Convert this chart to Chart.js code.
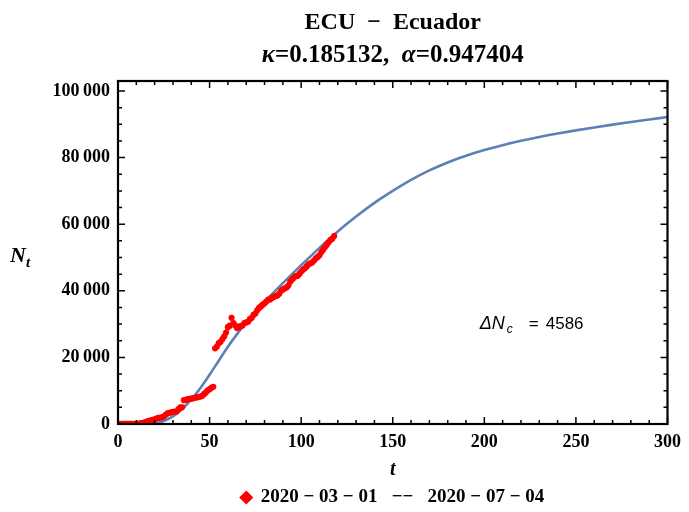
<!DOCTYPE html>
<html>
<head>
<meta charset="utf-8">
<script src="https://cdn.jsdelivr.net/npm/chart.js@4.4.1/dist/chart.umd.min.js"></script>
<style>
  html, body { margin: 0; padding: 0; background: #fff; }
  #wrap { width: 689px; height: 512px; }
</style>
</head>
<body>
<div id="wrap"><canvas id="c" width="689" height="512"></canvas></div>
<script>
// daily cumulative cases, t = 0 .. 118
const cases = [
  15, 15, 15, 15, 17, 17, 19, 23, 28, 37,
  58, 111, 168, 260, 426, 532, 789, 981, 1082, 1211,
  1403, 1627, 1823, 1924, 1966, 2240, 2748, 3163, 3368, 3465,
  3646, 3747, 3747, 4450, 4965, 5000, 7161, 7257, 7466, 7529,
  7603, 7700, 7858, 8000, 8100, 8225, 8450, 9022, 9468, 10128,
  10398, 10850, 11183, 22719, 23240, 24258, 24675, 25500, 26336, 27464,
  29071, 29538, 31881, 30298, 29559, 28818, 29071, 29509, 29559, 30298,
  30502, 30700, 31467, 31881, 32763, 33182, 34151, 34854, 35306, 35828,
  36258, 36756, 37355, 37355, 37860, 38103, 38471, 38571, 39098, 39994,
  40414, 40743, 40966, 41575, 42728, 43378, 43917, 44440, 44440, 45071,
  45778, 46356, 46751, 47322, 47943, 48256, 48490, 49097, 49731, 50183,
  50640, 51643, 52334, 53156, 53856, 54574, 55255, 55665, 56432
];
const days = cases.map((_, i) => i);

// fitted model curve
const fitT = [0, 10, 15, 20, 25, 30, 35, 40, 45, 50, 55, 60, 65, 70, 75, 80, 85, 90, 95, 100,
  105, 110, 115, 120, 125, 130, 140, 150, 160, 170, 180, 190, 200, 210, 220, 230, 240, 250, 260, 270, 280, 290, 300];
const fitN = [0, 0, 30, 200, 900, 2300, 4500, 7300, 10800, 14800, 19000, 23200, 27000, 30400, 33600, 36600, 39500, 42300, 45000, 47700,
  50300, 52900, 55400, 57800, 60100, 62300, 66400, 70000, 73300, 76150, 78550, 80550, 82250, 83730, 85030, 86190, 87230, 88180, 89060, 89890, 90680, 91440, 92180];

const xTicks = [0, 50, 100, 150, 200, 250, 300];
const yTicks = [0, 20000, 40000, 60000, 80000, 100000];

const seriesLabel = '2020 \u2212 03 \u2212 01   \u2212\u2212   2020 \u2212 07 \u2212 04';
const deltaNc = 4586;

const serif = '"Liberation Serif", "Times New Roman", serif';
const sans = '"Liberation Sans", Arial, sans-serif';

function drawRuns(ctx, runs, cx, y) {
  let total = 0;
  runs.forEach(r => { ctx.font = r.font; r.w = ctx.measureText(r.text).width; total += r.w; });
  let x = cx - total / 2;
  runs.forEach(r => {
    ctx.font = r.font;
    ctx.fillText(r.text, x, y);
    x += r.w;
  });
}

// title, axis label N_t, ΔN_c note, and the boxed frame with inward ticks
const decorations = {
  id: 'decorations',
  afterDatasetsDraw(chart) {
    const { ctx, chartArea: a, scales: { x, y } } = chart;
    ctx.save();
    ctx.fillStyle = '#000';
    ctx.textBaseline = 'alphabetic';
    ctx.textAlign = 'left';
    const cx = (a.left + a.right) / 2;

    drawRuns(ctx, [{ text: 'ECU  \u2212  Ecuador', font: 'bold 24px ' + serif }], cx, 29);
    drawRuns(ctx, [
      { text: '\u03ba', font: 'italic bold 25px ' + serif },
      { text: '=0.185132,  ', font: 'bold 25px ' + serif },
      { text: '\u03b1', font: 'italic bold 25px ' + serif },
      { text: '=0.947404', font: 'bold 25px ' + serif }
    ], cx, 62);

    // y axis label
    ctx.font = 'italic bold 22px ' + serif;
    ctx.fillText('N', 10, 262);
    const nw = ctx.measureText('N').width;
    ctx.font = 'italic bold 15px ' + serif;
    ctx.fillText('t', 10 + nw, 267);

    // ΔN_c note, placed in data coordinates
    const nx = x.getPixelForValue(197.5);
    const ny = y.getPixelForValue(28500);
    ctx.font = 'italic 18px ' + sans;
    ctx.fillText('\u0394N', nx, ny);
    const w = ctx.measureText('\u0394N').width;
    ctx.font = 'italic 12px ' + sans;
    ctx.fillText('c', nx + w + 2, ny + 4);
    ctx.font = '17px ' + sans;
    ctx.fillText('=', nx + 49, ny);
    ctx.fillText(String(deltaNc), nx + 66, ny);

    // ticks on all four sides
    ctx.strokeStyle = '#000';
    ctx.lineWidth = 1.5;
    ctx.beginPath();
    for (let v = 0; v <= 300; v += 10) {
      const px = x.getPixelForValue(v);
      const len = v % 50 === 0 ? 7 : 4;
      ctx.moveTo(px, a.bottom); ctx.lineTo(px, a.bottom - len);
      ctx.moveTo(px, a.top); ctx.lineTo(px, a.top + len);
    }
    for (let v = 0; v <= 100000; v += 5000) {
      const py = y.getPixelForValue(v);
      const len = v % 20000 === 0 ? 7 : 4;
      ctx.moveTo(a.left, py); ctx.lineTo(a.left + len, py);
      ctx.moveTo(a.right, py); ctx.lineTo(a.right - len, py);
    }
    ctx.stroke();
    ctx.lineWidth = 2.2;
    ctx.strokeRect(a.left, a.top, a.width, a.height);
    ctx.restore();
  }
};

const tickFont = { family: serif, size: 18, weight: 'bold' };

new Chart(document.getElementById('c'), {
  type: 'scatter',
  data: {
    datasets: [
      {
        label: seriesLabel,
        data: days.map((t, i) => ({ x: t, y: cases[i] })),
        backgroundColor: '#ff0000',
        borderColor: '#ff0000',
        pointRadius: 3.1,
        pointBorderWidth: 0,
        pointStyle: 'circle'
      },
      {
        label: 'fit',
        data: fitT.map((t, i) => ({ x: t, y: fitN[i] })),
        showLine: true,
        borderColor: '#5e81b5',
        borderWidth: 2.6,
        pointRadius: 0,
        cubicInterpolationMode: 'monotone'
      }
    ]
  },
  options: {
    responsive: false,
    animation: false,
    layout: { padding: { left: 0, right: 18, top: 81, bottom: -5 } },
    plugins: {
      legend: {
        position: 'bottom',
        fullSize: false,
        labels: {
          filter: item => item.datasetIndex === 0,
          usePointStyle: true,
          pointStyle: 'rectRot',
          boxWidth: 10,
          boxHeight: 10,
          color: '#000',
          font: { family: serif, size: 19, weight: 'bold', lineHeight: 1 },
          padding: 3
        }
      },
      tooltip: { enabled: false }
    },
    scales: {
      x: {
        type: 'linear',
        min: 0,
        max: 300,
        afterBuildTicks: s => { s.ticks = xTicks.map(v => ({ value: v })); },
        afterFit: s => { s.height = 61; },
        grid: { display: false, drawTicks: false },
        border: { display: false },
        ticks: { font: tickFont, color: '#000', padding: 8 },
        title: {
          display: true,
          text: 't',
          color: '#000',
          font: { family: serif, size: 20, weight: 'bold', style: 'italic' },
          padding: { top: 8, bottom: 3 }
        }
      },
      y: {
        type: 'linear',
        min: 0,
        max: 103000,
        afterBuildTicks: s => { s.ticks = yTicks.map(v => ({ value: v })); },
        afterFit: s => { s.width = 118; },
        grid: { display: false, drawTicks: false },
        border: { display: false },
        ticks: {
          font: tickFont,
          color: '#000',
          padding: 8,
          callback: v => v === 0 ? '0' : v.toLocaleString('en-US').replace(/,/g, '\u2009')
        }
      }
    }
  },
  plugins: [decorations]
});
</script>
</body>
</html>
